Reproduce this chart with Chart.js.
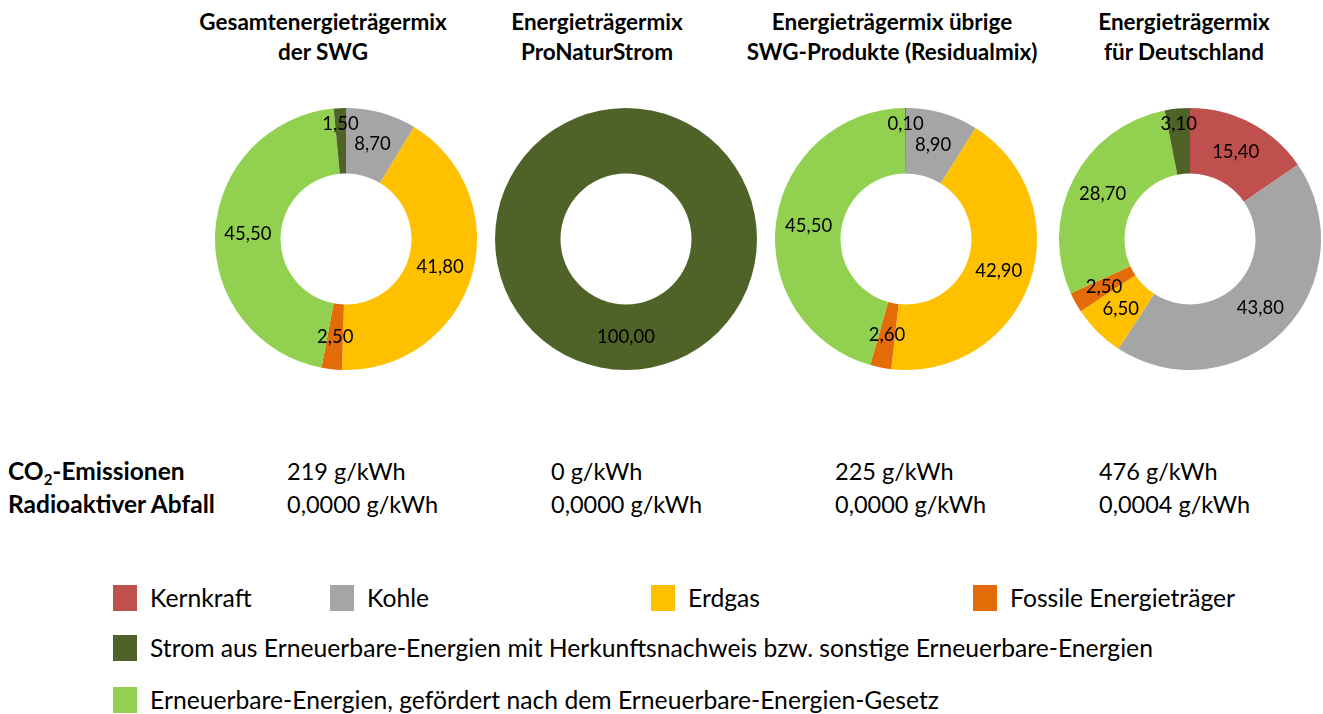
<!DOCTYPE html>
<html>
<head>
<meta charset="utf-8">
<script src="https://cdn.jsdelivr.net/npm/chart.js@4.4.0/dist/chart.umd.min.js"></script>
<style>
  body { margin: 0; background: #fff; overflow: hidden; }
  #page { position: relative; width: 1323px; height: 714px; font-family: Lato, "Open Sans", sans-serif; color: #000; }
  .title { position: absolute; top: 7px; width: 360px; text-align: center; font-weight: bold; font-size: 22.5px; line-height: 30px; }
  .donut { position: absolute; top: 108px; width: 262px; height: 262px; }
  .row { position: absolute; font-size: 23.5px; line-height: 24px; white-space: nowrap; }
  .row.head { font-weight: bold; left: 8px; font-size: 24.5px; }
  .row sub { font-size: 15px; vertical-align: -5px; line-height: 0; }
  .leg { position: absolute; font-size: 24.7px; line-height: 26px; white-space: nowrap; }
  .leg i { position: absolute; left: -37px; top: 0; width: 24px; height: 26px; }
</style>
</head>
<body>
<div id="page"></div>
<script>
// categories in drawing order (clockwise from 12 o'clock)
const categories = [
  "Kernkraft",
  "Kohle",
  "Erdgas",
  "Fossile Energieträger",
  "Erneuerbare-Energien, gefördert nach dem Erneuerbare-Energien-Gesetz",
  "Strom aus Erneuerbare-Energien mit Herkunftsnachweis bzw. sonstige Erneuerbare-Energien"
];
const colors = ["#C0504D", "#A5A5A5", "#FFC000", "#E36C09", "#92D050", "#4F6228"];

const titles = [
  ["Gesamtenergieträgermix", "der SWG"],
  ["Energieträgermix", "ProNaturStrom"],
  ["Energieträgermix übrige", "SWG-Produkte (Residualmix)"],
  ["Energieträgermix", "für Deutschland"]
];

const mixSWG       = [0, 8.7, 41.8, 2.5, 45.5, 1.5];
const mixNatur     = [0, 0, 0, 0, 0, 100];
const mixResidual  = [0, 8.9, 42.9, 2.6, 45.5, 0.1];
const mixDeutsch   = [15.4, 43.8, 6.5, 2.5, 28.7, 3.1];
const mixes = [mixSWG, mixNatur, mixResidual, mixDeutsch];

const co2Values   = ["219 g/kWh", "0 g/kWh", "225 g/kWh", "476 g/kWh"];
const wasteValues = ["0,0000 g/kWh", "0,0000 g/kWh", "0,0000 g/kWh", "0,0004 g/kWh"];

// layout
const centersX = [346, 626, 906, 1190];
const titleX = [323, 597, 892, 1184];
const valueX = [287, 551, 835, 1099];

const page = document.getElementById("page");

// value labels on the ring
const ringLabels = {
  id: "ringLabels",
  afterDatasetsDraw(chart) {
    const ctx = chart.ctx;
    const meta = chart.getDatasetMeta(0);
    const data = chart.data.datasets[0].data;
    ctx.save();
    ctx.font = "18.5px Lato, 'Open Sans', sans-serif";
    ctx.fillStyle = "#000";
    ctx.textAlign = "center";
    ctx.textBaseline = "middle";
    meta.data.forEach((arc, i) => {
      if (!data[i]) return;
      const mid = (arc.startAngle + arc.endAngle) / 2;
      let r = (arc.innerRadius + arc.outerRadius) / 2;
      // small slices at the top sit a little further out
      if (data[i] < 4 && Math.sin(mid) < 0) r = arc.outerRadius * 0.88;
      const x = arc.x + Math.cos(mid) * r;
      const y = arc.y + Math.sin(mid) * r;
      ctx.fillText(data[i].toFixed(2).replace(".", ","), x, y);
    });
    ctx.restore();
  }
};

mixes.forEach((values, k) => {
  const t = document.createElement("div");
  t.className = "title";
  t.style.left = (titleX[k] - 180) + "px";
  t.innerHTML = titles[k].join("<br>");
  page.appendChild(t);

  const box = document.createElement("div");
  box.className = "donut";
  box.style.left = (centersX[k] - 131) + "px";
  const canvas = document.createElement("canvas");
  box.appendChild(canvas);
  page.appendChild(box);

  new Chart(canvas.getContext("2d"), {
    type: "doughnut",
    data: {
      labels: categories,
      datasets: [{
        data: values,
        backgroundColor: colors,
        borderWidth: 0
      }]
    },
    options: {
      responsive: true,
      maintainAspectRatio: false,
      animation: false,
      cutout: "50%",
      layout: { padding: 0 },
      plugins: { legend: { display: false }, tooltip: { enabled: false } }
    },
    plugins: [ringLabels]
  });
});

// emission rows
function addRow(html, x, y, cls) {
  const d = document.createElement("div");
  d.className = "row" + (cls ? " " + cls : "");
  if (x !== null) d.style.left = x + "px";
  d.style.top = (y - 12) + "px";
  d.innerHTML = html;
  page.appendChild(d);
}
addRow("CO<sub>2</sub>-Emissionen", null, 471, "head");
addRow("Radioaktiver Abfall", null, 504, "head");
co2Values.forEach((v, k) => addRow(v, valueX[k], 471));
wasteValues.forEach((v, k) => addRow(v, valueX[k], 504));

// legend
const legendItems = [
  [0, 150, 598], [1, 367, 598], [2, 688, 598], [3, 1010, 598],
  [5, 150, 648], [4, 150, 700]
];
legendItems.forEach(([i, x, y]) => {
  const d = document.createElement("div");
  d.className = "leg";
  d.style.left = x + "px";
  d.style.top = (y - 13) + "px";
  d.innerHTML = '<i style="background:' + colors[i] + '"></i>' + categories[i];
  page.appendChild(d);
});
</script>
</body>
</html>
